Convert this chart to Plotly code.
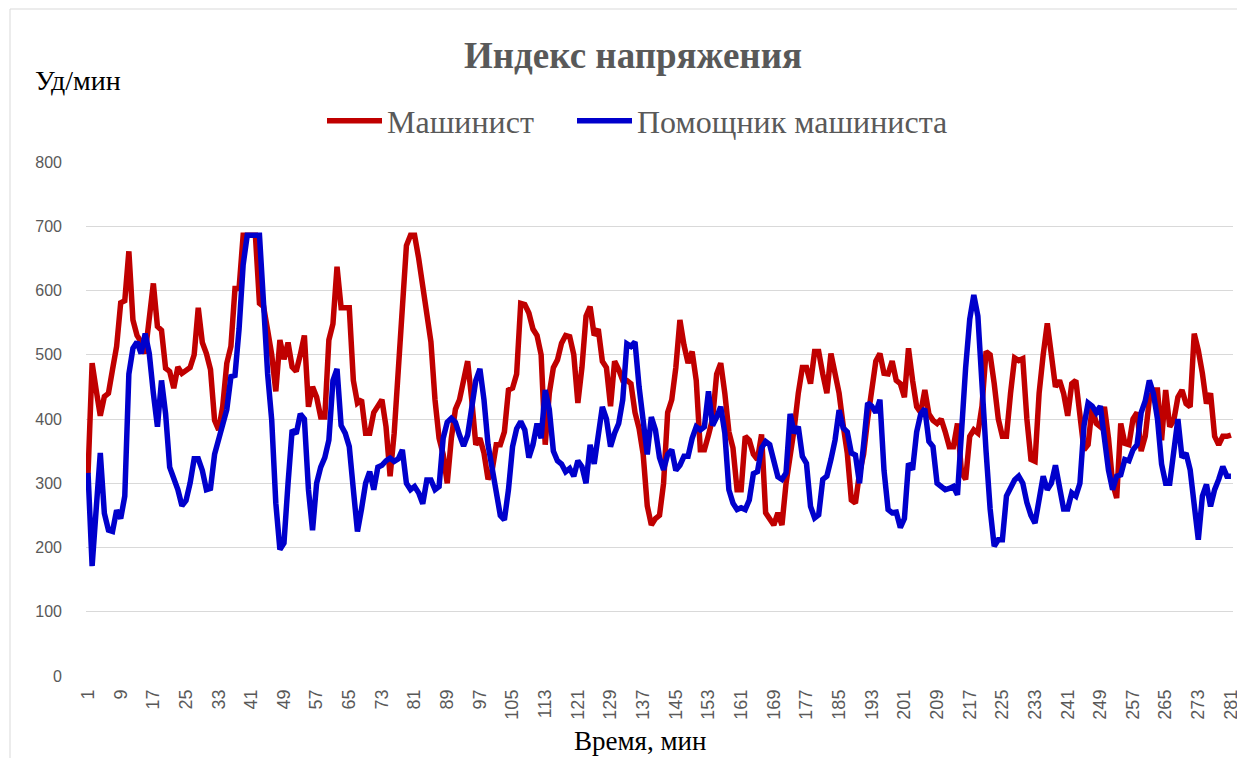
import plotly.graph_objects as go

minutes = list(range(1, 282))

driver = [
    315, 487, 445, 405, 435, 440, 477, 513, 581, 584,
    661, 554, 530, 520, 502, 560, 611, 544, 538, 479,
    474, 448, 481, 471, 475, 480, 500, 573, 519, 502,
    477, 398, 383, 420, 487, 513, 603, 603, 686, 686,
    686, 686, 580, 575, 538, 500, 443, 523, 493, 519,
    481, 474, 500, 530, 419, 450, 434, 403, 403, 523,
    548, 637, 573, 573, 573, 460, 425, 430, 378, 378,
    410, 420, 430, 388, 311, 378, 480, 600, 670, 686,
    686, 650, 606, 562, 520, 430, 370, 345, 300, 370,
    415, 430, 460, 490, 430, 360, 370, 347, 306, 320,
    360, 360, 380, 445, 448, 470, 580, 578, 565, 540,
    530, 500, 360, 440, 480, 492, 518, 530, 528, 500,
    425, 480, 560, 575, 530, 540, 490, 480, 420, 490,
    477, 460, 460, 455, 410, 385, 345, 265, 235, 245,
    250, 300, 410, 430, 480, 554, 515, 487, 505, 460,
    352, 352, 375, 400, 470, 487, 440, 380, 355, 290,
    290, 373, 367, 345, 337, 376, 254, 245, 235, 254,
    235, 300, 337, 385, 440, 480, 480, 455, 505, 505,
    470, 440, 502, 470, 440, 390, 347, 274, 269, 316,
    345, 400, 450, 490, 502, 471, 470, 490, 460, 455,
    434, 510, 460, 419, 410, 445, 408, 398, 393, 400,
    380, 357, 357, 393, 316, 306, 373, 383, 378, 420,
    505, 500, 455, 400, 373, 373, 440, 495, 491, 494,
    400, 337, 334, 440, 500, 549, 500, 450, 460, 440,
    405, 455, 460, 400, 352, 360, 419, 393, 388, 419,
    370, 300, 277, 393, 362, 360, 400, 410, 350, 373,
    430, 445, 445, 367, 445, 388, 398, 434, 445, 424,
    419, 533, 507, 471, 424, 440, 373, 360, 373, 373,
    375,
]

assistant = [
    316, 171, 260, 347, 253, 227, 225, 258, 245, 280,
    470, 510, 520, 502, 533, 502, 440, 388, 460, 408,
    325, 309, 290, 265, 273, 300, 338, 338, 320, 290,
    292, 345, 367, 395, 415, 466, 468, 540, 640, 686,
    686, 686, 686, 580, 470, 398, 269, 197, 207, 300,
    383, 377, 408, 400, 290, 227, 300, 325, 340, 367,
    460, 478, 390, 378, 357, 290, 225, 260, 300, 318,
    290, 325, 328, 335, 339, 334, 338, 352, 300, 290,
    295, 285, 268, 305, 305, 290, 295, 370, 395, 401,
    395, 375, 358, 375, 420, 460, 478, 430, 360, 325,
    290, 250, 243, 290, 357, 385, 396, 383, 340, 360,
    393, 370, 445, 415, 350, 335, 330, 318, 323, 311,
    335, 326, 300, 360, 330, 370, 419, 400, 357, 378,
    393, 430, 517, 513, 520, 450, 400, 345, 403, 383,
    340, 321, 345, 352, 320, 328, 342, 342, 370, 388,
    383, 388, 443, 390, 403, 419, 378, 290, 269, 259,
    262, 259, 274, 315, 318, 355, 365, 360, 335, 310,
    306, 316, 408, 378, 388, 342, 331, 264, 246, 251,
    306, 311, 337, 367, 414, 386, 380, 347, 344, 300,
    360, 425, 420, 410, 430, 320, 259, 254, 255, 231,
    245, 331, 321, 380, 408, 416, 365, 357, 300, 296,
    290, 292, 295, 282, 388, 480, 555, 593, 560, 470,
    350, 260, 202, 212, 212, 280, 295, 305, 311, 300,
    270, 250, 238, 270, 311, 290, 300, 328, 295, 260,
    260, 285, 280, 300, 390, 425, 420, 410, 420, 370,
    320, 290, 311, 313, 337, 335, 352, 360, 410, 428,
    460, 440, 400, 330, 300, 300, 360, 400, 340, 347,
    321, 259, 212, 280, 298, 264, 290, 306, 326, 311,
    311,
]

tick_vals = list(range(1, 282, 8))
tick_text = [str(v) for v in tick_vals]
y_ticks = list(range(0, 801, 100))

# page body has an 8px margin: work in screen pixels and shift by it
OFF = 8
SCR_W, SCR_H = 1245, 758
PL, PR, PT, PB = 86, 1233, 162, 676          # plot area on screen
W, H = SCR_W - OFF, SCR_H - OFF
L = PL - OFF
T = PT - OFF
R = W - (PR - OFF)
B = H - (PB - OFF)


def px(x):
    return (x - PL) / (PR - PL)


def py(y):
    return (PB - y) / (PB - PT)


SERIF = "Liberation Serif, Times New Roman, serif"
SANS = "Liberation Sans, Arial, sans-serif"
GRAY = "#595959"

fig = go.Figure()
fig.add_trace(go.Scatter(x=minutes, y=driver, mode="lines", name="Машинист",
                         line=dict(color="#C00000", width=5.5), legend="legend"))
fig.add_trace(go.Scatter(x=minutes, y=assistant, mode="lines", name="Помощник машиниста",
                         line=dict(color="#0000CC", width=5.5), legend="legend2"))

leg_font = dict(family=SERIF, size=32, color=GRAY)
fig.update_layout(
    width=W, height=H,
    margin=dict(l=L, r=R, t=T, b=B, autoexpand=False),
    paper_bgcolor="white", plot_bgcolor="white",
    showlegend=True,
    legend=dict(orientation="h", x=px(322), y=py(121), xanchor="left", yanchor="middle",
                font=leg_font, itemwidth=55, bgcolor="rgba(0,0,0,0)"),
    legend2=dict(orientation="h", x=px(572), y=py(121), xanchor="left", yanchor="middle",
                 font=leg_font, itemwidth=55, bgcolor="rgba(0,0,0,0)"),
    xaxis=dict(range=[0.5, 281.5], tickmode="array", tickvals=tick_vals, ticktext=tick_text,
               tickangle=-90, tickfont=dict(family=SANS, size=18, color=GRAY),
               showgrid=False, zeroline=False, showline=False, ticks="",
               ticklabelstandoff=9),
    yaxis=dict(range=[0, 800], tickmode="array", tickvals=y_ticks,
               tickfont=dict(family=SANS, size=16, color=GRAY),
               showgrid=True, gridcolor="#D9D9D9", gridwidth=1, zeroline=False,
               showline=False, ticks="", ticklabelstandoff=23),
    annotations=[
        dict(text="<b>Индекс напряжения</b>", x=px(633), y=py(55), xref="paper", yref="paper",
             showarrow=False, font=dict(family=SERIF, size=37, color=GRAY),
             xanchor="center", yanchor="middle"),
        dict(text="Уд/мин", x=px(78), y=py(81), xref="paper", yref="paper",
             showarrow=False, font=dict(family=SERIF, size=28, color="black"),
             xanchor="center", yanchor="middle"),
        dict(text="Время, мин", x=px(640), y=py(741), xref="paper", yref="paper",
             showarrow=False, font=dict(family=SERIF, size=27, color="black"),
             xanchor="center", yanchor="middle"),
    ],
    shapes=[
        dict(type="rect", xref="paper", yref="paper", x0=px(10), x1=px(1242), y0=py(9), y1=py(780),
             line=dict(color="#D9D9D9", width=1), fillcolor="rgba(0,0,0,0)", layer="below"),
    ],
)

fig.write_html("out.html")
